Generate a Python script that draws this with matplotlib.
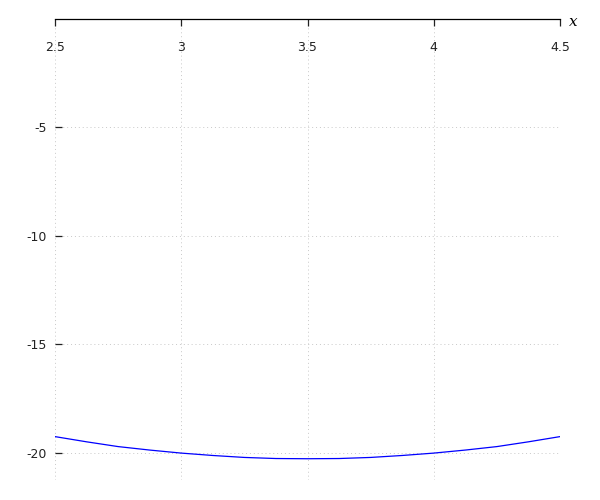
import numpy as np
import matplotlib.pyplot as plt

# values
x_vals = [2.5, 2.625, 2.75, 2.875, 3.0, 3.125, 3.25, 3.375, 3.5,
          3.625, 3.75, 3.875, 4.0, 4.125, 4.25, 4.375, 4.5]
y_vals = [-19.25, -19.49, -19.71, -19.87, -20.01, -20.12, -20.21, -20.26, -20.27,
          -20.26, -20.21, -20.12, -20.01, -19.87, -19.71, -19.49, -19.25]
x_ticks = [2.5, 3, 3.5, 4, 4.5]
x_tick_labels = ['2.5', '3', '3.5', '4', '4.5']
y_ticks = [-5, -10, -15, -20]
y_tick_labels = ['-5', '-10', '-15', '-20']

fig = plt.figure(figsize=(6, 5), dpi=100)
ax = fig.add_axes([0.0917, 0.04, 0.8416, 0.922])

ax.plot(x_vals, y_vals, color='blue', linewidth=0.9)

ax.set_xlim(2.5, 4.5)
ax.set_ylim(-21.25, 0)

for s in ['left', 'right', 'bottom']:
    ax.spines[s].set_visible(False)
ax.spines['top'].set_linewidth(0.9)

ax.set_xticks(x_ticks)
ax.set_xticklabels(x_tick_labels)
ax.set_yticks(y_ticks)
ax.set_yticklabels(y_tick_labels)

ax.tick_params(axis='x', top=True, bottom=False, labeltop=True, labelbottom=False,
               direction='in', length=5, width=0.9, pad=-25, labelsize=9, colors='#222222')
ax.tick_params(axis='y', left=True, right=False, direction='in', length=5, width=0.9,
               pad=6, labelsize=9, colors='#222222')

ax.grid(True, linestyle=(0, (1, 3)), color='#c8c8c8', linewidth=0.7)

ax.text(1.027, 0.993, 'x', transform=ax.transAxes, fontsize=11, style='italic',
        family='DejaVu Serif', ha='center', va='center')

fig.savefig('out.png', dpi=100)
